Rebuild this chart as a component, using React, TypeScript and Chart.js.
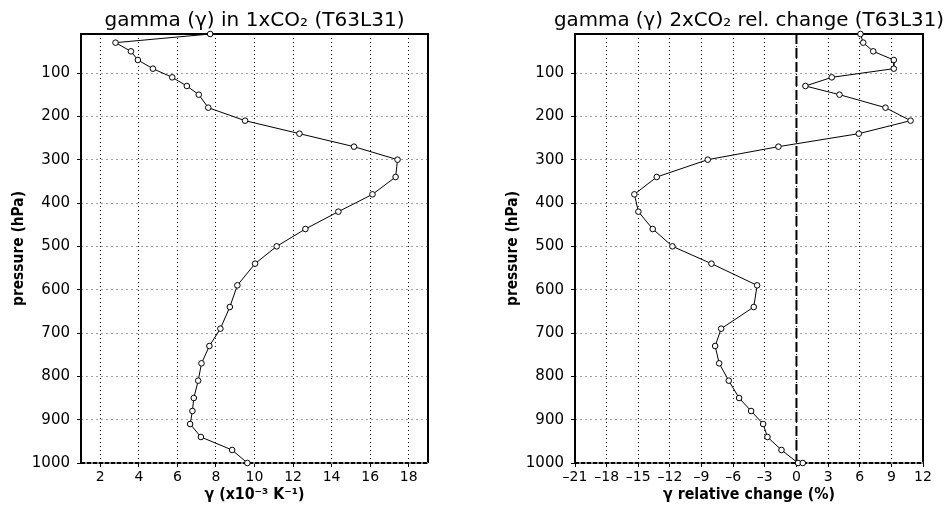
import React, { useEffect, useRef } from "react";
import { Chart, registerables } from "chart.js";

Chart.register(...registerables);

// Pressure levels (hPa), T63L31
const levels = [10, 30, 50, 70, 90, 110, 130, 150, 180, 210, 240, 270, 300, 340, 380, 420, 460, 500, 540, 590, 640, 690, 730, 770, 810, 850, 880, 910, 940, 970, 1000];
// gamma in 1xCO2 (x10^-3 K^-1)
const gamma1x = [7.7, 2.79, 3.59, 3.95, 4.73, 5.73, 6.49, 7.11, 7.6, 9.51, 12.33, 15.16, 17.42, 17.32, 16.12, 14.35, 12.64, 11.15, 10.03, 9.11, 8.72, 8.23, 7.66, 7.25, 7.08, 6.85, 6.78, 6.66, 7.22, 8.84, 9.63];
// relative change 2xCO2 (%), with an extra surface point at 1000 hPa
const relLevels = [...levels, 1000];
const relChange = [6.07, 6.33, 7.28, 9.23, 9.23, 3.35, 0.85, 4.08, 8.44, 10.82, 5.91, -1.71, -8.41, -13.25, -15.37, -14.99, -13.63, -11.76, -8.06, -3.73, -4.05, -7.14, -7.71, -7.33, -6.42, -5.44, -4.3, -3.16, -2.75, -1.42, 0.15, 0.6];

const pressureTicks = [100, 200, 300, 400, 500, 600, 700, 800, 900, 1000];
const gammaTicks = [2, 4, 6, 8, 10, 12, 14, 16, 18];
const relTicks = [-21, -18, -15, -12, -9, -6, -3, 0, 3, 6, 9, 12];

const FONT = "'DejaVu Sans', sans-serif";

function drawFitted(ctx: CanvasRenderingContext2D, text: string, x: number, y: number, font: string, targetW: number, rotate = false) {
  ctx.save();
  ctx.font = font;
  ctx.fillStyle = "#000";
  const w = ctx.measureText(text).width;
  ctx.translate(x, y);
  if (rotate) ctx.rotate(-Math.PI / 2);
  ctx.scale(targetW / w, 1);
  ctx.textAlign = "center";
  ctx.textBaseline = "alphabetic";
  ctx.fillText(text, 0, 0);
  ctx.restore();
}

type PanelProps = {
  xs: number[];
  ys: number[];
  xMin: number;
  xMax: number;
  xTicks: number[];
  padLeftWidth: number;
  padRight: number;
  title: string;
  titleW: number;
  xTitle: string;
  xTitleW: number;
  yTitleX: number;
  zeroLine: boolean;
};

function Panel(p: PanelProps) {
  const ref = useRef<HTMLCanvasElement | null>(null);
  useEffect(() => {
    const canvas = ref.current;
    if (!canvas) return;
    const framePlugin = {
      id: "frame",
      beforeDatasetsDraw(chart: any) {
        const { ctx, chartArea: a } = chart;
        ctx.save();
        if (p.zeroLine) {
          const x0 = chart.scales.x.getPixelForValue(0);
          ctx.strokeStyle = "#000";
          ctx.lineWidth = 2;
          ctx.setLineDash([10, 4]);
          ctx.beginPath();
          ctx.moveTo(x0, a.top);
          ctx.lineTo(x0, a.bottom);
          ctx.stroke();
        }
        ctx.setLineDash([]);
        ctx.strokeStyle = "#000";
        ctx.lineWidth = 2;
        ctx.beginPath();
        ctx.moveTo(a.left, a.bottom);
        ctx.lineTo(a.left, a.top);
        ctx.lineTo(a.right, a.top);
        ctx.lineTo(a.right, a.bottom);
        ctx.stroke();
        ctx.strokeStyle = "#888";
        ctx.lineWidth = 2;
        ctx.beginPath();
        ctx.moveTo(a.left, a.bottom);
        ctx.lineTo(a.right, a.bottom);
        ctx.stroke();
        ctx.strokeStyle = "#000";
        ctx.setLineDash([4, 2]);
        ctx.beginPath();
        ctx.moveTo(a.left, a.bottom);
        ctx.lineTo(a.right, a.bottom);
        ctx.stroke();
        ctx.restore();
      },
      afterDraw(chart: any) {
        const { ctx, chartArea: a } = chart;
        const cx = (a.left + a.right) / 2;
        drawFitted(ctx, p.title, cx, 26, `19px ${FONT}`, p.titleW);
        drawFitted(ctx, p.xTitle, cx, 499, `bold 16px ${FONT}`, p.xTitleW);
        drawFitted(ctx, "pressure (hPa)", p.yTitleX, (a.top + a.bottom) / 2, `bold 15px ${FONT}`, 115, true);
      },
    };
    const chart = new Chart(canvas, {
      type: "scatter",
      data: {
        datasets: [
          {
            data: p.xs.map((x, i) => ({ x, y: p.ys[i] })),
            showLine: true,
            borderColor: "#000",
            borderWidth: 1,
            pointRadius: 2.8,
            pointBackgroundColor: "#fff",
            pointBorderColor: "#000",
            pointBorderWidth: 1,
            clip: false,
          } as any,
        ],
      },
      options: {
        animation: false,
        responsive: false,
        events: [],
        layout: { padding: { top: 34, right: p.padRight, left: 0, bottom: 0 } },
        plugins: { legend: { display: false }, tooltip: { enabled: false }, title: { display: false } },
        scales: {
          x: {
            type: "linear",
            min: p.xMin,
            max: p.xMax,
            afterBuildTicks: (s: any) => {
              s.ticks = p.xTicks.map((v) => ({ value: v }));
            },
            afterFit: (s: any) => {
              s.height = 44;
            },
            grid: { color: "#000", lineWidth: 1, drawTicks: true, tickLength: 4, tickColor: "#000", tickWidth: 1 },
            border: { display: false, dash: [1, 3] },
            ticks: {
              color: "#000",
              font: { family: FONT, size: 14 },
              padding: 2,
              maxRotation: 0,
              autoSkip: false,
              callback: (v: any) => String(v).replace("-", "\u2013"),
            },
          },
          y: {
            type: "linear",
            reverse: true,
            min: 10,
            max: 1000,
            afterBuildTicks: (s: any) => {
              s.ticks = pressureTicks.map((v) => ({ value: v }));
            },
            afterFit: (s: any) => {
              s.width = p.padLeftWidth;
            },
            grid: { color: "#a0a0a0", lineWidth: 1, drawTicks: true, tickLength: 4, tickColor: "#000", tickWidth: 1 },
            border: { display: false, dash: [2, 3] },
            ticks: {
              color: "#000",
              font: { family: FONT, size: 15 },
              padding: 7,
              autoSkip: false,
              callback: (v: any) => String(v),
            },
          },
        },
      } as any,
      plugins: [framePlugin],
    });
    return () => chart.destroy();
  }, []);
  return <canvas ref={ref} width={474} height={507} style={{ width: 474, height: 507, display: "block" }} />;
}

export default function App() {
  return (
    <div style={{ position: "fixed", left: 0, top: 0, width: 948, height: 507, background: "#fff", display: "flex" }}>
      <Panel
        xs={gamma1x}
        ys={levels}
        xMin={1}
        xMax={19}
        xTicks={gammaTicks}
        padLeftWidth={81}
        padRight={46}
        title={"gamma (\u03b3) in 1xCO\u2082 (T63L31)"}
        titleW={300}
        xTitle={"\u03b3 (x10\u207b\u00b3 K\u207b\u00b9)"}
        xTitleW={100}
        yTitleX={23}
        zeroLine={false}
      />
      <Panel
        xs={relChange}
        ys={relLevels}
        xMin={-21}
        xMax={12}
        xTicks={relTicks}
        padLeftWidth={101}
        padRight={25}
        title={"gamma (\u03b3) 2xCO\u2082 rel. change (T63L31)"}
        titleW={390}
        xTitle={"\u03b3 relative change (%)"}
        xTitleW={172}
        yTitleX={43}
        zeroLine={true}
      />
    </div>
  );
}
